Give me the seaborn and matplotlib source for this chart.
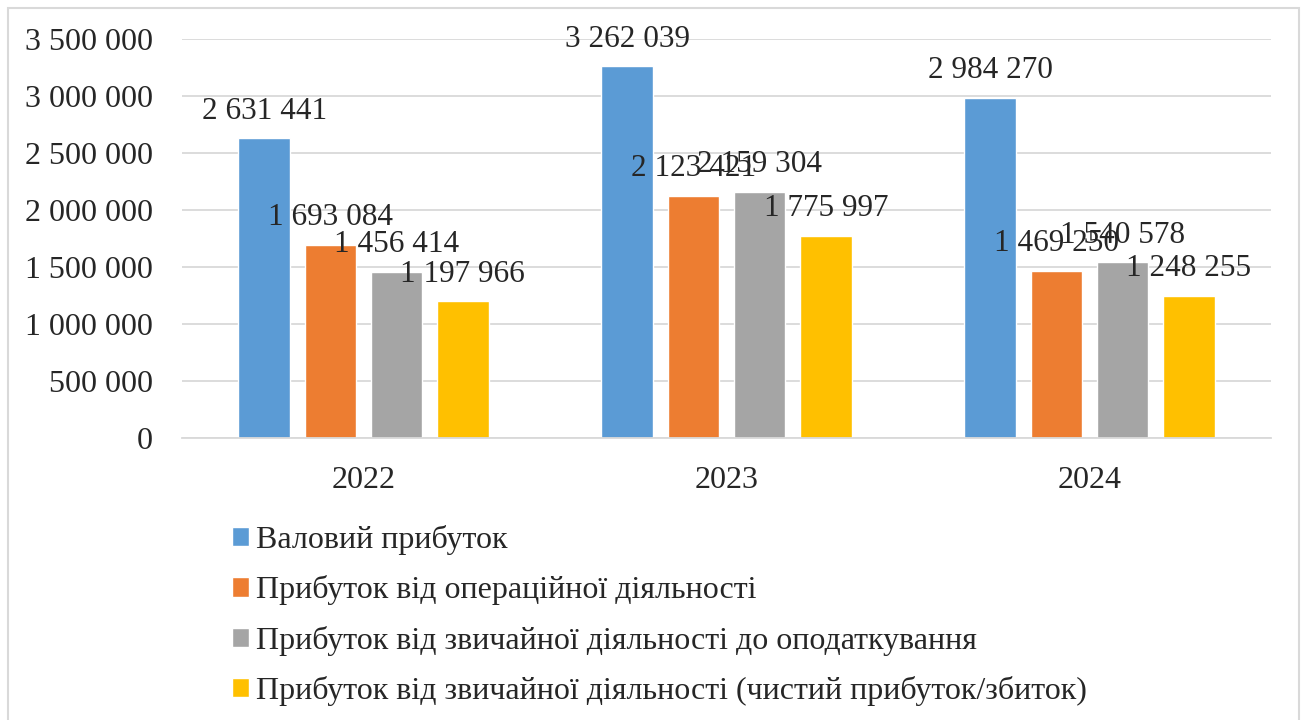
import pandas as pd
import numpy as np
import seaborn as sns
import matplotlib.pyplot as plt
from matplotlib.ticker import FuncFormatter
from matplotlib.patches import Rectangle

# chart data
years = ["2022", "2023", "2024"]
series = ["Валовий прибуток",
          "Прибуток від операційної діяльності",
          "Прибуток від звичайної діяльності до оподаткування",
          "Прибуток від звичайної діяльності (чистий прибуток/збиток)"]
gross = [2631441, 3262039, 2984270]
operating = [1693084, 2123421, 1469250]
before_tax = [1456414, 2159304, 1540578]
net = [1197966, 1775997, 1248255]
colors = ["#5B9BD5", "#ED7D31", "#A5A5A5", "#FFC000"]

df = pd.DataFrame({
    "year": years * 4,
    "series": np.repeat(series, 3),
    "value": gross + operating + before_tax + net,
})

sns.set_style("white")
plt.rcParams["font.family"] = ["Liberation Serif", "DejaVu Serif"]


def spaced(v, pos=None):
    return f"{int(round(v)):,}".replace(",", " ")


fig = plt.figure(figsize=(13.06, 7.2), dpi=100)
ax = fig.add_axes([182 / 1306, 1 - 438 / 720, (1271 - 182) / 1306, (438 - 39) / 720])

sns.barplot(data=df, x="year", y="value", hue="series", hue_order=series,
            palette=colors, width=0.73, gap=0.22, saturation=1, ax=ax)

for cont in ax.containers:
    ax.bar_label(cont, labels=[spaced(b.get_height()) for b in cont],
                 padding=9, fontsize=22.5)

ax.set_ylim(0, 3500000)
ax.set_yticks(np.arange(0, 3500001, 500000))
ax.yaxis.set_major_formatter(FuncFormatter(spaced))
ax.grid(axis="y", color="#d9d9d9", linewidth=1.3)
ax.set_axisbelow(True)
for s in ["top", "right", "left"]:
    ax.spines[s].set_visible(False)
ax.spines["bottom"].set_color("#d9d9d9")
ax.spines["bottom"].set_linewidth(1.3)
ax.tick_params(axis="both", length=0, labelsize=23)
ax.tick_params(axis="y", pad=21)
ax.tick_params(axis="x", pad=20)
ax.set_xlabel("")
ax.set_ylabel("")

sns.move_legend(ax, loc="upper left", bbox_to_anchor=(203 / 1306, 1 - 496 / 720),
                bbox_transform=fig.transFigure, frameon=False, title=None,
                fontsize=23, handlelength=0.55, handleheight=0.55,
                handletextpad=0.2, labelspacing=0.64)

fig.patches.append(Rectangle((8 / 1306, -0.01), (1299 - 8) / 1306, 1 - 8 / 720 + 0.01,
                             transform=fig.transFigure, fill=False,
                             edgecolor="#d9d9d9", linewidth=1.5))

plt.savefig("out.png", dpi=100)
plt.close()
